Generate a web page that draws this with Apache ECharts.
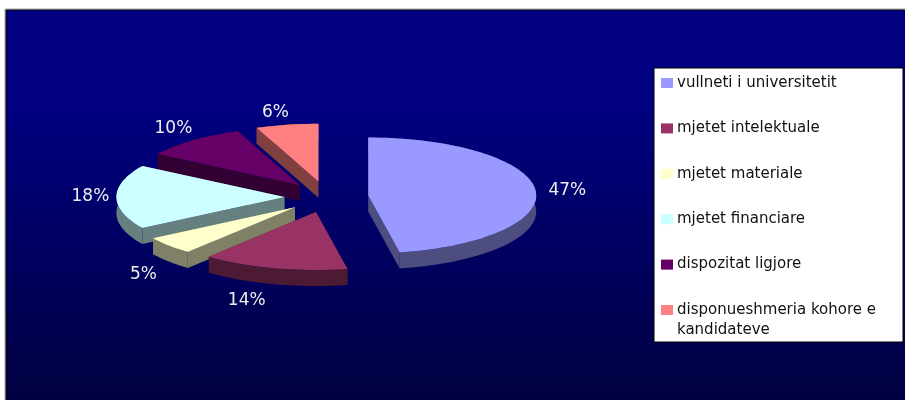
<!DOCTYPE html>
<html>
<head>
<meta charset="utf-8">
<style>html,body{margin:0;padding:0;background:#fff}#chart{width:905px;height:400px}</style>
<script src="https://cdn.jsdelivr.net/npm/echarts@6/dist/echarts.min.js"></script>
</head>
<body>
<div id="chart"></div>
<script>
// Shares of the survey answers, in percent
const categories = ['vullneti i universitetit', 'mjetet intelektuale', 'mjetet materiale', 'mjetet financiare', 'dispozitat ligjore', 'disponueshmeria kohore e\nkandidateve'];
const values = [47, 14, 5, 18, 10, 6];
const topColors = ['#9999FF', '#993366', '#FFFFCC', '#CCFFFF', '#660066', '#FF8080'];
const wallColors = ['#4d4d80', '#4d1a33', '#808066', '#668080', '#330033', '#804040'];
const labelNudgeX = [2, -20, -3, 4, 0, -6];
const labelNudgeY = [2, -4, 4, 0, 0, 3];

// Tilted pie geometry: an ellipse with an extruded rim, slices pulled out along their mid angle
const pie = { cx: 326.4, cy: 197, rx: 168, ry: 58, depth: 16, pullX: 42, pullY: 15.5 };
const total = values.reduce((a, b) => a + b, 0);
const toRad = d => d * Math.PI / 180;

const slices = [];
let running = 0;
values.forEach((v, i) => {
  const start = running / total * 360;
  running += v;
  const end = running / total * 360;
  slices.push({ i, v, start, end, mid: (start + end) / 2 });
});
// Paint from the back of the pie to the front
const drawOrder = slices.slice().sort((a, b) => Math.cos(toRad(b.mid)) - Math.cos(toRad(a.mid)));

function renderSlice(params) {
  const s = drawOrder[params.dataIndex];
  const mid = toRad(s.mid);
  const ax = pie.cx + pie.pullX * Math.sin(mid);
  const ay = pie.cy - pie.pullY * Math.cos(mid);
  const arc = [];
  const steps = Math.max(2, Math.ceil((s.end - s.start) / 2));
  for (let k = 0; k <= steps; k++) {
    const t = toRad(s.start + (s.end - s.start) * k / steps);
    arc.push([ax + pie.rx * Math.sin(t), ay - pie.ry * Math.cos(t)]);
  }
  const apex = [ax, ay];
  const down = p => [p[0], p[1] + pie.depth];
  const wall = wallColors[s.i];
  const wallShape = pts => ({ type: 'polygon', shape: { points: pts }, style: { fill: wall } });
  const first = arc[0];
  const last = arc[arc.length - 1];
  const children = [
    // Two cut faces and the outer rim, each one a single shape
    wallShape([apex, first, down(first), down(apex)]),
    wallShape([apex, last, down(last), down(apex)]),
    wallShape(arc.concat(arc.map(down).reverse())),
    { type: 'polygon', shape: { points: [apex].concat(arc) }, style: { fill: topColors[s.i] } }
  ];
  // Percentage label outside the rim
  const cosM = Math.cos(mid);
  const gapY = cosM > 0 ? 15 : pie.depth + 22;
  children.push({
    type: 'text',
    style: {
      text: Math.round(s.v / total * 100) + '%',
      x: ax + Math.sin(mid) * (pie.rx + 30) + labelNudgeX[s.i],
      y: ay - cosM * (pie.ry + gapY) + labelNudgeY[s.i],
      fill: '#eeeeee',
      font: '17px "DejaVu Sans"',
      align: 'center',
      verticalAlign: 'middle'
    }
  });
  return { type: 'group', children };
}

// Legend panel, built from the category and colour lists
const legendBox = { x: 654, y: 68, w: 249, h: 274, firstRow: 83, rowStep: 45.4 };
const legendGraphics = [{
  type: 'rect', z: 5,
  shape: { x: legendBox.x, y: legendBox.y, width: legendBox.w, height: legendBox.h },
  style: { fill: '#ffffff', stroke: '#000000', lineWidth: 1 }
}];
categories.forEach((name, i) => {
  const rowY = legendBox.firstRow + i * legendBox.rowStep;
  legendGraphics.push({
    type: 'rect', z: 6,
    shape: { x: 661, y: rowY - 5, width: 12, height: 10 },
    style: { fill: topColors[i] }
  });
  legendGraphics.push({
    type: 'text', z: 6, x: 677, y: rowY - 10,
    style: {
      text: name,
      fill: '#111111',
      font: '15px "DejaVu Sans"',
      lineHeight: 20,
      align: 'left',
      verticalAlign: 'top'
    }
  });
});

const chart = echarts.init(document.getElementById('chart'), null, { renderer: 'canvas' });
chart.setOption({
  animation: false,
  backgroundColor: '#ffffff',
  graphic: [{
    // Thin grey edge around the panel
    type: 'rect', z: -11,
    shape: { x: 5, y: 9, width: 905, height: 400 },
    style: { fill: 'none', stroke: '#a0a0a0', lineWidth: 1 }
  }, {
    type: 'rect', z: -10,
    shape: { x: 6, y: 10, width: 905, height: 400 },
    style: {
      fill: {
        type: 'linear', x: 0, y: 0, x2: 0, y2: 1,
        colorStops: [
          { offset: 0, color: '#000080' },
          { offset: 0.25, color: '#000080' },
          { offset: 1, color: '#00003e' }
        ]
      },
      stroke: '#000000',
      lineWidth: 1
    }
  }].concat(legendGraphics),
  series: [{
    type: 'custom',
    coordinateSystem: 'none',
    silent: true,
    data: drawOrder.map(s => ({ name: categories[s.i], value: s.v })),
    renderItem: renderSlice
  }]
});
</script>
</body>
</html>
